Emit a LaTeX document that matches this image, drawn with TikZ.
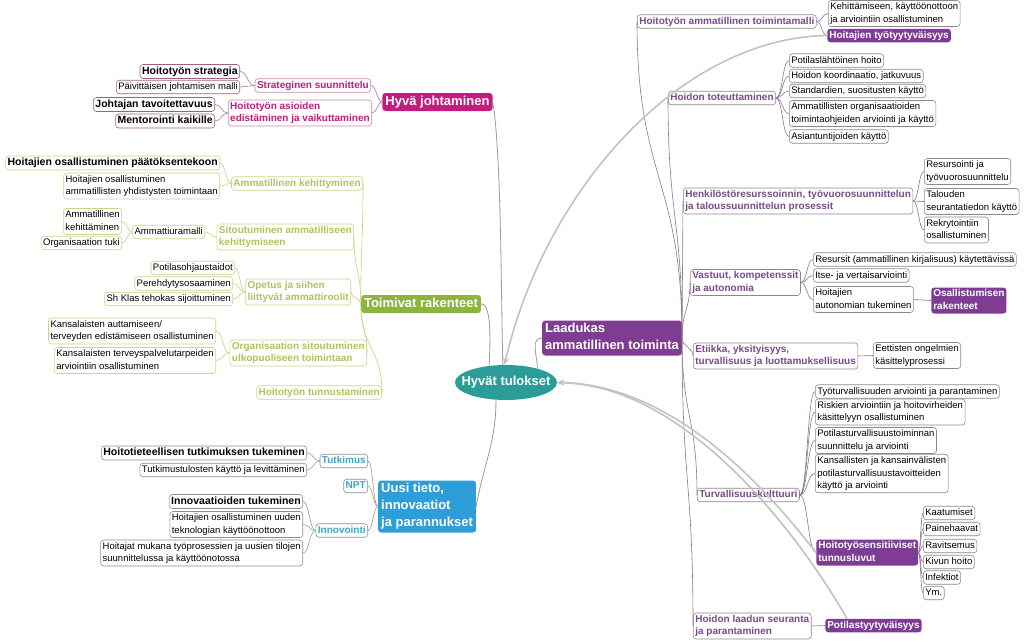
\documentclass[tikz,border=0pt]{standalone}
\usepackage{fontspec}
\setmainfont{Liberation Sans}
\usetikzlibrary{shapes.geometric,arrows.meta,calc}

\definecolor{htcol}{HTML}{2B9D98}
\definecolor{hjcol}{HTML}{C41C7E}
\definecolor{hjedge}{HTML}{C98AB0}
\definecolor{hjleafedge}{HTML}{9E5F88}
\definecolor{hjlink}{HTML}{B8729C}
\definecolor{trcol}{HTML}{8DB340}
\definecolor{trtext}{HTML}{AFC45F}
\definecolor{tredge}{HTML}{CBD48D}
\definecolor{trlink}{HTML}{C6D080}
\definecolor{utcol}{HTML}{2E9EDA}
\definecolor{uttext}{HTML}{3FA5CB}
\definecolor{utedge}{HTML}{8E8E8E}
\definecolor{latcol}{HTML}{7E3D93}
\definecolor{lattext}{HTML}{7A4A8D}
\definecolor{latedge}{HTML}{8A8A8A}
\definecolor{latlink}{HTML}{85768F}
\definecolor{mainlink}{HTML}{9A9A9A}
\definecolor{relgrey}{HTML}{C2C2C2}

\tikzset{
        % main topics
        mainbox/.style={rectangle, rounded corners=3pt, text=white, inner xsep=3pt, inner ysep=0.5pt, align=left,
                font=\fontsize{13}{17}\selectfont\bfseries, execute at begin node=\strut, execute at end node=\strut},
        % subtopics
        subbox/.style={rectangle, rounded corners=3pt, draw, fill=white, line width=0.6pt, inner xsep=2pt, inner ysep=0.5pt,
                align=left, font=\fontsize{10}{12.5}\selectfont\bfseries, execute at begin node=\strut, execute at end node=\strut},
        % leaf topics
        leafbox/.style={subbox, text=black, font=\fontsize{9.5}{12.5}\selectfont},
        leafbold/.style={subbox, text=black, font=\fontsize{10.5}{13}\selectfont\bfseries},
        fillbox/.style={subbox, draw=none, fill=latcol, text=white},
        % central topic
        centre/.style={ellipse, fill=htcol, text=white, inner sep=-20pt, minimum width=102, minimum height=35,
                font=\fontsize{13}{16}\selectfont\bfseries},
        % branch colours
        hjsub/.style={draw=hjedge, text=hjcol},
        hjleaf/.style={draw=hjleafedge},
        trsub/.style={draw=tredge, text=trtext},
        trleaf/.style={draw=tredge},
        utsub/.style={draw=utedge, text=uttext},
        utleaf/.style={draw=utedge},
        latsub/.style={draw=latedge, text=lattext},
        latleaf/.style={draw=latedge},
        % connectors
        hlink/.style={to path={.. controls ($(\tikztostart)!0.5!(\tikztostart-|\tikztotarget)$)
                and ($(\tikztotarget)!0.5!(\tikztotarget-|\tikztostart)$) .. (\tikztotarget) \tikztonodes}},
        vlink/.style={to path={.. controls ($(\tikztostart)!0.5!(\tikztostart|-\tikztotarget)$)
                and ($(\tikztotarget)!0.5!(\tikztotarget|-\tikztostart)$) .. (\tikztotarget) \tikztonodes}},
        mainline/.style={draw=mainlink, line width=0.8pt},
        hjline/.style={draw=hjlink, line width=0.6pt},
        trline/.style={draw=trlink, line width=0.6pt},
        utline/.style={draw=mainlink, line width=0.6pt},
        latline/.style={draw=latlink, line width=0.6pt},
        relarrow/.style={draw=relgrey, line width=1.6pt, -{Stealth[length=7pt,width=6pt]}}
}

\begin{document}
\begin{tikzpicture}[x=1pt, y=-1pt]
        \useasboundingbox (0,0) rectangle (1024,641);

        \node[centre] (ht) at (506,382.5) {Hyvät tulokset};

        % Hyvä johtaminen
        \node[mainbox, fill=hjcol] (hj) at (437.5,102) {Hyvä johtaminen};
        \node[subbox, hjsub, anchor=east] (ss) at (371,85.5) {Strateginen suunnittelu};
        \node[subbox, hjsub, anchor=east] (hae) at (372,113) {\strut Hoitotyön asioiden\\edistäminen ja vaikuttaminen\strut};
        \node[leafbold, hjleaf, anchor=east] (hs) at (240,71.5) {Hoitotyön strategia};
        \node[leafbox, hjleaf, anchor=east] (pjm) at (240,87) {Päivittäisen johtamisen malli};
        \node[leafbold, hjleaf, anchor=east] (jt) at (215,104.5) {Johtajan tavoitettavuus};
        \node[leafbold, hjleaf, anchor=east] (mk) at (215,121) {Mentorointi kaikille};

        % Toimivat rakenteet
        \node[mainbox, fill=trcol] (tr) at (421,304) {Toimivat rakenteet};
        \node[subbox, trsub, anchor=east] (akm) at (363,183.5) {Ammatillinen kehittyminen};
        \node[subbox, trsub, anchor=east] (sak) at (354,237) {\strut Sitoutuminen ammatilliseen\\kehittymiseen\strut};
        \node[subbox, trsub, anchor=east] (osa) at (351,292) {\strut Opetus ja siihen\\liittyvät ammattiroolit\strut};
        \node[subbox, trsub, anchor=east] (osu) at (367,353) {\strut Organisaation sitoutuminen\\ulkopuoliseen toimintaan\strut};
        \node[subbox, trsub, anchor=east] (htt) at (382,392.5) {Hoitotyön tunnustaminen};
        \node[leafbold, trleaf, anchor=east] (hop) at (220,163) {Hoitajien osallistuminen päätöksentekoon};
        \node[leafbox, trleaf, anchor=east] (hoy) at (220,186) {\strut Hoitajien osallistuminen\\ammatillisten yhdistysten toimintaan\strut};
        \node[leafbox, trleaf, anchor=east] (aum) at (205,232) {Ammattiuramalli};
        \node[leafbox, trleaf, anchor=east] (akt) at (122,221.5) {\strut Ammatillinen\\kehittäminen\strut};
        \node[leafbox, trleaf, anchor=east] (ot) at (122,243) {Organisaation tuki};
        \node[leafbox, trleaf, anchor=east] (pot) at (235,268) {Potilasohjaustaidot};
        \node[leafbox, trleaf, anchor=east] (per) at (233,283.5) {Perehdytysosaaminen};
        \node[leafbox, trleaf, anchor=east] (skt) at (233,299) {Sh Klas tehokas sijoittuminen};
        \node[leafbox, trleaf, anchor=east] (kae) at (216,331) {\strut Kansalaisten auttamiseen/\\terveyden edistämiseen osallistuminen\strut};
        \node[leafbox, trleaf, anchor=east] (kta) at (216,360.5) {\strut Kansalaisten terveyspalvelutarpeiden\\arviointiin osallistuminen\strut};

        % Uusi tieto
        \node[mainbox, fill=utcol, anchor=west] (ut) at (378,506.5) {\strut Uusi tieto,\\innovaatiot\\ja parannukset\strut};
        \node[subbox, utsub, anchor=east] (tk) at (368,461) {Tutkimus};
        \node[subbox, utsub, anchor=east] (npt) at (368,486) {NPT};
        \node[subbox, utsub, anchor=east] (inn) at (368,530.5) {Innovointi};
        \node[leafbold, utleaf, anchor=east] (htk) at (307,453) {Hoitotieteellisen tutkimuksen tukeminen};
        \node[leafbox, utleaf, anchor=east] (tkl) at (307,470) {Tutkimustulosten käyttö ja levittäminen};
        \node[leafbold, utleaf, anchor=east] (int) at (303,501.5) {Innovaatioiden tukeminen};
        \node[leafbox, utleaf, anchor=east] (hou) at (303,524.5) {\strut Hoitajien osallistuminen uuden\\teknologian käyttöönottoon\strut};
        \node[leafbox, utleaf, anchor=east] (hmt) at (303,553) {\strut Hoitajat mukana työprosessien ja uusien tilojen\\suunnittelussa ja käyttöönotossa\strut};

        % Laadukas ammatillinen toiminta
        \node[mainbox, fill=latcol, anchor=west] (lat) at (542,338) {\strut Laadukas\\ammatillinen toiminta\strut};
        \node[subbox, latsub, anchor=west] (hatm) at (637,21.5) {Hoitotyön ammatillinen toimintamalli};
        \node[leafbox, latleaf, anchor=west] (kko) at (828,13.5) {\strut Kehittämiseen, käyttöönottoon\\ja arviointiin osallistuminen\strut};
        \node[fillbox, anchor=west] (hty) at (827,35.5) {Hoitajien työtyytyväisyys};
        \node[subbox, latsub, anchor=west] (hto) at (668,98) {Hoidon toteuttaminen};
        \node[leafbox, latleaf, anchor=west] (plh) at (789,60.5) {Potilaslähtöinen hoito};
        \node[leafbox, latleaf, anchor=west] (hkj) at (789,76) {Hoidon koordinaatio, jatkuvuus};
        \node[leafbox, latleaf, anchor=west] (ssk) at (789,91) {Standardien, suositusten käyttö};
        \node[leafbox, latleaf, anchor=west] (aot) at (789,113.5) {\strut Ammatillisten organisaatioiden\\toimintaohjeiden arviointi ja käyttö\strut};
        \node[leafbox, latleaf, anchor=west] (ask) at (789,136.5) {Asiantuntijoiden käyttö};
        \node[subbox, latsub, anchor=west] (hrs) at (683,201) {\strut Henkilöstöresurssoinnin, työvuorosuunnittelun\\ja taloussuunnittelun prosessit\strut};
        \node[leafbox, latleaf, anchor=west] (rty) at (924,171.5) {\strut Resursointi ja\\työvuorosuunnittelu\strut};
        \node[leafbox, latleaf, anchor=west] (tsk) at (924,201.5) {\strut Talouden\\seurantatiedon käyttö\strut};
        \node[leafbox, latleaf, anchor=west] (ros) at (924,230) {\strut Rekrytointiin\\osallistuminen\strut};
        \node[subbox, latsub, anchor=west] (vka) at (690,282.5) {\strut Vastuut, kompetenssit\\ja autonomia\strut};
        \node[leafbox, latleaf, anchor=west] (rak) at (813,259.5) {Resursit (ammatillinen kirjalisuus) käytettävissä};
        \node[leafbox, latleaf, anchor=west] (iva) at (813,275.5) {Itse- ja vertaisarviointi};
        \node[leafbox, latleaf, anchor=west] (hau) at (813,299.5) {\strut Hoitajien\\autonomian tukeminen\strut};
        \node[fillbox, anchor=west] (osr) at (931,300.5) {\strut Osallistumisen\\rakenteet\strut};
        \node[subbox, latsub, anchor=west] (eyt) at (693,356) {\strut Etiikka, yksityisyys,\\turvallisuus ja luottamuksellisuus\strut};
        \node[leafbox, latleaf, anchor=west] (eok) at (873,355.5) {\strut Eettisten ongelmien\\käsittelyprosessi\strut};
        \node[subbox, latsub, anchor=west] (tku) at (697,495) {Turvallisuuskulttuuri};
        \node[leafbox, latleaf, anchor=west] (tap) at (815,391.5) {Työturvallisuuden arviointi ja parantaminen};
        \node[leafbox, latleaf, anchor=west] (rah) at (815,412) {\strut Riskien arviointiin ja hoitovirheiden\\käsittelyyn osallistuminen\strut};
        \node[leafbox, latleaf, anchor=west] (pts) at (815,440.5) {\strut Potilasturvallisuustoiminnan\\suunnittelu ja arviointi\strut};
        \node[leafbox, latleaf, anchor=west] (kpk) at (815,473.5) {\strut Kansallisten ja kansainvälisten\\potilasturvallisuustavoitteiden\\käyttö ja arviointi\strut};
        \node[fillbox, anchor=west] (hst) at (816,552.5) {\strut Hoitotyösensitiiviset\\tunnusluvut\strut};
        \node[leafbox, latleaf, anchor=west] (kaa) at (923,513) {Kaatumiset};
        \node[leafbox, latleaf, anchor=west] (pai) at (923,529) {Painehaavat};
        \node[leafbox, latleaf, anchor=west] (rav) at (923,546) {Ravitsemus};
        \node[leafbox, latleaf, anchor=west] (kiv) at (923,562) {Kivun hoito};
        \node[leafbox, latleaf, anchor=west] (inf) at (923,577.5) {Infektiot};
        \node[leafbox, latleaf, anchor=west] (ym) at (923,593) {Ym.};
        \node[subbox, latsub, anchor=west] (hls) at (693,626) {\strut Hoidon laadun seuranta\\ja parantaminen\strut};
        \node[fillbox, anchor=west] (pty) at (825,625.5) {Potilastyytyväisyys};

        % links to the centre
        \draw[mainline] (hj.east) to[out=-80, in=92, looseness=0.5] (ht.100);
        \draw[mainline] (tr.east) to[out=0, in=90, looseness=0.5] (ht.135);
        \draw[mainline] (ut.east) to[out=80, in=-90] (ht.240);
        \draw[mainline] (ht.24) to[out=90, in=180] (lat.west);

        % branch links
        \foreach \c in {ss,hae} \draw[hjline] (hj.west) to[hlink] (\c.east);
        \foreach \c in {hs,pjm} \draw[hjline] (ss.west) to[hlink] (\c.east);
        \foreach \c in {jt,mk} \draw[hjline] (hae.west) to[hlink] (\c.east);

        \foreach \c in {akm,sak,osa,osu,htt} \draw[trline] (tr.west) to[vlink] (\c.east);
        \foreach \c in {hop,hoy} \draw[trline] (akm.west) to[hlink] (\c.east);
        \draw[trline] (sak.west) to[hlink] (aum.east);
        \foreach \c in {akt,ot} \draw[trline] (aum.west) to[hlink] (\c.east);
        \foreach \c in {pot,per,skt} \draw[trline] (osa.west) to[hlink] (\c.east);
        \foreach \c in {kae,kta} \draw[trline] (osu.west) to[hlink] (\c.east);

        \foreach \c in {tk,npt,inn} \draw[utline] (ut.west) to[hlink] (\c.east);
        \foreach \c in {htk,tkl} \draw[utline] (tk.west) to[hlink] (\c.east);
        \foreach \c in {int,hou,hmt} \draw[utline] (inn.west) to[hlink] (\c.east);

        \foreach \c in {hatm,hto,hrs,vka,eyt,tku,hls} \draw[latline] (lat.east) to[vlink] (\c.west);
        \foreach \c in {kko,hty} \draw[latline] (hatm.east) to[hlink] (\c.west);
        \foreach \c in {plh,hkj,ssk,aot,ask} \draw[latline] (hto.east) to[hlink] (\c.west);
        \foreach \c in {rty,tsk,ros} \draw[latline] (hrs.east) to[hlink] (\c.west);
        \foreach \c in {rak,iva,hau} \draw[latline] (vka.east) to[hlink] (\c.west);
        \draw[latline] (hau.east) -- (osr.west);
        \draw[latline] (eyt.east) -- (eok.west);
        \foreach \c in {tap,rah,pts,kpk,hst} \draw[latline] (tku.east) to[hlink] (\c.west);
        \foreach \c in {kaa,pai,rav,kiv,inf,ym} \draw[latline] (hst.east) to[hlink] (\c.west);
        \draw[latline] (hls.east) -- (pty.west);

        % relations to the result
        \draw[relarrow] (hty.west) .. controls (680,38) and (545,190) .. (ht.95);
        \draw[relarrow] (hst.west) .. controls (775,500) and (680,385) .. (ht.east);
        \draw[relarrow] ([xshift=22]pty.north west) .. controls (790,520) and (680,385) .. (ht.east);
\end{tikzpicture}
\end{document}
